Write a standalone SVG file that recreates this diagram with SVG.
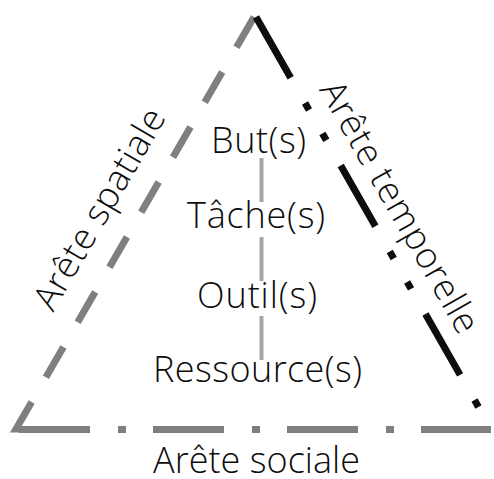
<svg xmlns="http://www.w3.org/2000/svg" width="494" height="479" viewBox="0 0 494 479">
<style>
.lbl{font-family:"Open Sans","Liberation Sans",sans-serif;font-weight:300;font-size:36px;fill:#0d0d0d;text-anchor:middle}
.gray{fill:none;stroke:#7f7f7f;stroke-width:7;stroke-linejoin:miter}
.blk{fill:none;stroke:#0d0d0d;stroke-width:7}
</style>
<rect width="494" height="479" fill="#fff"/>
<g id="connectors">
<path class="gray" d="M254,17 L16,429 L23,429" stroke-dasharray="35 28.5"/>
<path class="gray" d="M19,429.5 L491,429.5" stroke-dasharray="71 28 8 27"/>
<path class="blk" d="M256,17 L491,429" stroke-dasharray="70 29 8 27 8 29"/>
<path d="M261.5,158 L261.5,361" fill="none" stroke="#a6a6a6" stroke-width="4" stroke-dasharray="44 35"/>
</g>
<g id="node-buts"><text class="lbl" x="258.5" y="153" textLength="95" lengthAdjust="spacing">But(s)</text></g>
<g id="node-taches"><text class="lbl" x="256" y="228" textLength="138" lengthAdjust="spacing">Tâche(s)</text></g>
<g id="node-outils"><text class="lbl" x="257" y="308" textLength="120" lengthAdjust="spacing">Outil(s)</text></g>
<g id="node-ressources"><text class="lbl" x="257.5" y="382" textLength="209" lengthAdjust="spacing">Ressource(s)</text></g>
<g id="label-spatiale"><text class="lbl" transform="translate(110,215) rotate(-59.9)" textLength="226" lengthAdjust="spacing">Arête spatiale</text></g>
<g id="label-temporelle"><text class="lbl" transform="translate(389,213) rotate(60.3)" textLength="284" lengthAdjust="spacing">Arête temporelle</text></g>
<g id="label-sociale"><text class="lbl" x="256.5" y="473" textLength="207" lengthAdjust="spacing">Arête sociale</text></g>
</svg>
